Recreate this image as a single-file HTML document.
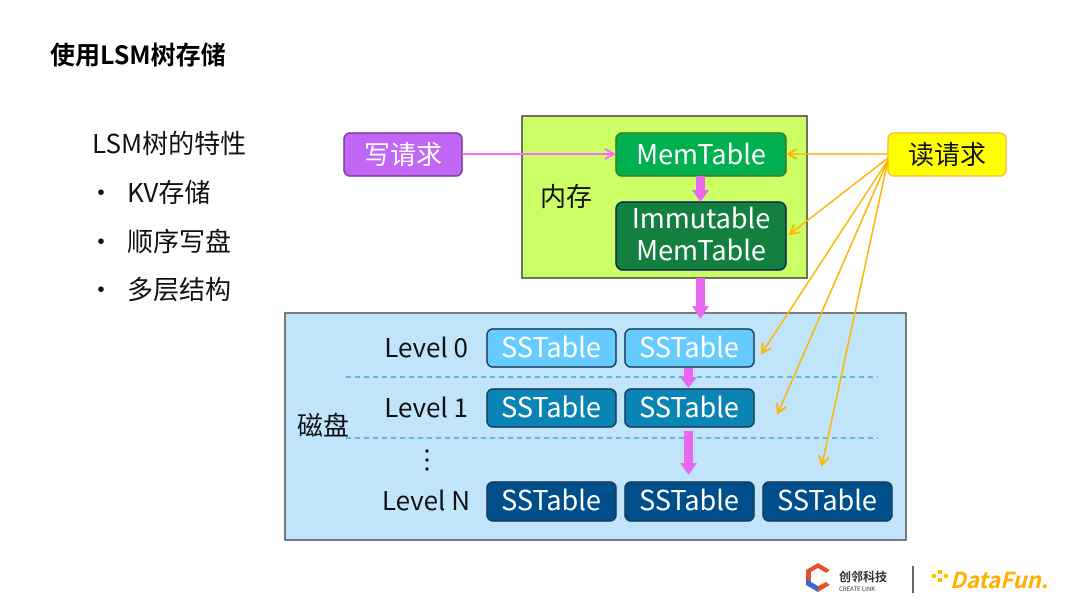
<!DOCTYPE html>
<html><head><meta charset="utf-8"><style>
html,body{margin:0;padding:0;background:#fff;}
svg{display:block;}
text{font-family:"Noto Sans CJK SC","Liberation Sans",sans-serif;}
</style></head><body>
<svg width="1080" height="608" viewBox="0 0 1080 608" xmlns="http://www.w3.org/2000/svg">
<defs>
<marker id="oa" markerWidth="12" markerHeight="12" refX="10" refY="6" orient="auto" markerUnits="userSpaceOnUse"><path d="M1,1 L10,6 L1,11" fill="none" stroke="#ffb400" stroke-width="2"/></marker>
<marker id="pa" markerWidth="12" markerHeight="12" refX="10" refY="6" orient="auto" markerUnits="userSpaceOnUse"><path d="M1,1 L10,6 L1,11" fill="none" stroke="#ff66ff" stroke-width="2"/></marker>
</defs>
<text x="50" y="64" font-size="25" font-weight="bold" fill="#000">使用LSM树存储</text>
<g font-size="26" fill="#111">
<text x="92" y="153">LSM树的特性</text>
<text x="88" y="202" font-family="Liberation Sans">•</text><text x="127" y="202">KV存储</text>
<text x="88" y="251" font-family="Liberation Sans">•</text><text x="127" y="251">顺序写盘</text>
<text x="88" y="299" font-family="Liberation Sans">•</text><text x="127" y="299">多层结构</text>
</g>
<rect x="522" y="116" width="285" height="162" fill="#ccff66" stroke="#444" stroke-width="1.5"/>
<text x="540" y="206" font-size="26" fill="#111">内存</text>
<rect x="616" y="133" width="170" height="43" rx="6" fill="#00b050" stroke="#3a7a1a" stroke-width="1.5"/>
<text x="701" y="164" font-size="27" fill="#fff" text-anchor="middle">MemTable</text>
<rect x="616" y="202" width="170" height="68" rx="7" fill="#138040" stroke="#10245a" stroke-width="1.5"/>
<text x="701" y="228" font-size="27" fill="#fff" text-anchor="middle">Immutable</text>
<text x="701" y="260" font-size="27" fill="#fff" text-anchor="middle">MemTable</text>
<rect x="344" y="133" width="118" height="43" rx="6" fill="#c266f5" stroke="#7a3a9a" stroke-width="1.5"/>
<text x="403" y="164" font-size="26" fill="#fff" text-anchor="middle">写请求</text>
<rect x="888" y="133" width="118" height="43" rx="6" fill="#ffff00" stroke="#f5c040" stroke-width="1.5"/>
<text x="947" y="164" font-size="26" fill="#111" text-anchor="middle">读请求</text>
<line x1="462" y1="154" x2="614" y2="154" stroke="#ff66ff" stroke-width="2" marker-end="url(#pa)"/>
<rect x="285" y="313" width="621" height="227" fill="#c0e4fa" stroke="#555" stroke-width="1.5"/>
<text x="297" y="435" font-size="26" fill="#111">磁盘</text>
<line x1="346" y1="377" x2="878" y2="377" stroke="#29a0d0" stroke-width="1.3" stroke-dasharray="5,4"/>
<line x1="346" y1="438" x2="878" y2="438" stroke="#29a0d0" stroke-width="1.3" stroke-dasharray="5,4"/>
<g font-size="26" fill="#111" text-anchor="end">
<text x="468" y="357">Level 0</text>
<text x="468" y="417">Level 1</text>
<text x="470" y="510">Level N</text>
</g>
<g fill="#111"><circle cx="427" cy="451" r="1.6"/><circle cx="427" cy="460" r="1.6"/><circle cx="427" cy="469" r="1.6"/></g>
<g font-size="27" fill="#fff" text-anchor="middle" stroke-width="1.5">
<rect x="487" y="329" width="129" height="38" rx="6" fill="#66ccff" stroke="#1a3a5a"/>
<rect x="625" y="329" width="129" height="38" rx="6" fill="#66ccff" stroke="#1a3a5a"/>
<rect x="487" y="389" width="129" height="38" rx="6" fill="#0a84b4" stroke="#1a3a5a"/>
<rect x="625" y="389" width="129" height="38" rx="6" fill="#0a84b4" stroke="#1a3a5a"/>
<rect x="487" y="482" width="129" height="39" rx="6" fill="#004f8a" stroke="#1a3a5a"/>
<rect x="625" y="482" width="129" height="39" rx="6" fill="#004f8a" stroke="#1a3a5a"/>
<rect x="763" y="482" width="129" height="39" rx="6" fill="#004f8a" stroke="#1a3a5a"/>
<text x="551" y="357">SSTable</text><text x="689" y="357">SSTable</text>
<text x="551" y="417">SSTable</text><text x="689" y="417">SSTable</text>
<text x="551" y="510">SSTable</text><text x="689" y="510">SSTable</text><text x="827" y="510">SSTable</text>
</g>
<g fill="#e868f0">
<rect x="696" y="176" width="9" height="16"/><path d="M692,190 L709,190 L700.5,202 Z"/>
<rect x="696" y="278" width="9" height="30"/><path d="M692,306 L709,306 L700.5,319 Z"/>
<rect x="684" y="368" width="9" height="11"/><path d="M680,377 L697,377 L688.5,388 Z"/>
<rect x="684" y="431" width="9" height="34"/><path d="M680,463 L697,463 L688.5,475 Z"/>
</g>
<g stroke="#ffb400" stroke-width="1.6" fill="none">
<line x1="888" y1="154" x2="788" y2="154" marker-end="url(#oa)"/>
<line x1="888" y1="158" x2="790" y2="234" marker-end="url(#oa)"/>
<line x1="888" y1="160" x2="762" y2="353" marker-end="url(#oa)"/>
<line x1="888" y1="160" x2="778" y2="413" marker-end="url(#oa)"/>
<line x1="888" y1="160" x2="822" y2="465" marker-end="url(#oa)"/>
</g>
<g>
<path d="M806,570 L818,563 L830,570 L826,573 L818,568 L811,572 L811,582 L818,586 L826,582 L830,585 L818,592 L806,585 Z" fill="#e8502a"/>
<path d="M806,578 L811,582 L818,586 L818,592 L806,585 Z" fill="#3a6ad0"/>
<text x="839" y="581" font-size="12" font-weight="bold" fill="#333">创邻科技</text>
<text x="839" y="591" font-size="6" fill="#333">CREATE LINK</text>
<line x1="913" y1="566" x2="913" y2="593" stroke="#333" stroke-width="1.5"/>
<g fill="#ffc000"><rect x="932" y="574" width="4" height="4"/><rect x="938" y="570" width="4" height="4"/><rect x="938" y="578" width="4" height="4"/><rect x="944" y="574" width="4" height="4"/></g>
<text x="950" y="588" font-size="22" font-weight="bold" font-style="italic" fill="#ffb000">DataFun.</text>
</g>
</svg>
</body></html>
